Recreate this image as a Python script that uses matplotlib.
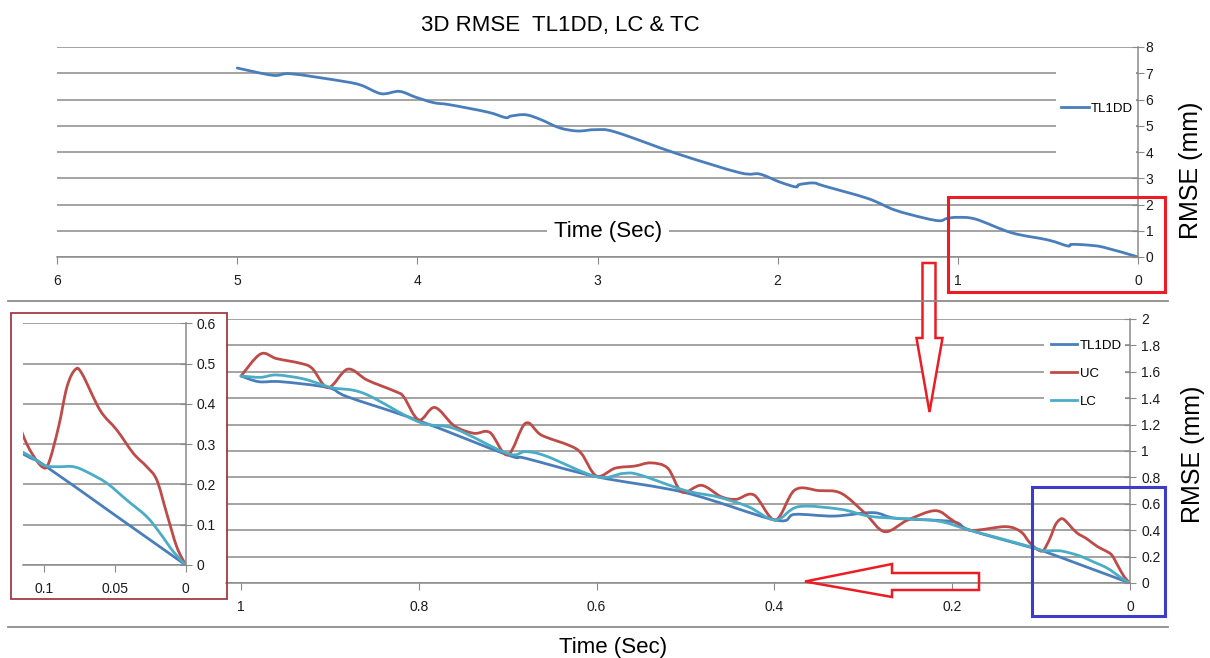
import matplotlib
matplotlib.use('Agg')
import matplotlib.pyplot as plt
from matplotlib.transforms import Affine2D
from matplotlib.patches import Rectangle, Polygon, PathPatch
from matplotlib.path import Path
from matplotlib.lines import Line2D

W, H = 1210, 658

# ---- top chart: TL1DD over the full 5 s ----
top_t = [5.0, 4.80, 4.70, 4.41, 4.31, 4.20, 4.10, 4.01, 3.91, 3.82, 3.61, 3.51,
         3.48, 3.40, 3.32, 3.21, 3.11, 3.01, 2.90, 2.56, 2.21, 2.10, 1.99, 1.90,
         1.88, 1.80, 1.74, 1.50, 1.35, 1.19, 1.10, 1.06, 1.00, 0.90, 0.70, 0.50,
         0.39, 0.37, 0.29, 0.19, 0.0]
top_tl1dd = [7.20, 6.92, 6.98, 6.69, 6.54, 6.22, 6.31, 6.09, 5.88, 5.80, 5.52, 5.31,
             5.37, 5.42, 5.25, 4.92, 4.80, 4.85, 4.76, 3.94, 3.21, 3.16, 2.86, 2.67,
             2.76, 2.82, 2.70, 2.23, 1.79, 1.49, 1.38, 1.47, 1.51, 1.44, 0.92, 0.65,
             0.42, 0.48, 0.46, 0.37, 0.0]
top_xticks = [6, 5, 4, 3, 2, 1, 0]
top_yticks = [0, 1, 2, 3, 4, 5, 6, 7, 8]

# ---- bottom chart: last second, TL1DD / UC / LC ----
tl1dd_t = [1.0, 0.98, 0.955, 0.902, 0.88, 0.80, 0.70, 0.68, 0.60, 0.50, 0.399,
           0.377, 0.333, 0.289, 0.263, 0.20, 0.18, 0.1139, 0.10, 0.05, 0.0]
tl1dd_v = [1.568, 1.525, 1.525, 1.48, 1.41, 1.23, 0.97, 0.945, 0.805, 0.684, 0.477,
           0.52, 0.507, 0.533, 0.49, 0.465, 0.40, 0.274, 0.248, 0.124, 0.0]

uc_t = [1.0, 0.978, 0.96, 0.933, 0.92, 0.902, 0.88, 0.858, 0.826, 0.817, 0.80,
        0.782, 0.76, 0.738, 0.72, 0.70, 0.68, 0.662, 0.63, 0.617, 0.60, 0.579,
        0.557, 0.539, 0.52, 0.504, 0.482, 0.46, 0.443, 0.423, 0.399, 0.377, 0.35,
        0.325, 0.298, 0.276, 0.25, 0.219, 0.20, 0.18, 0.14, 0.123, 0.1139, 0.1085,
        0.1014, 0.0968, 0.0897, 0.0838, 0.078, 0.0732, 0.0604, 0.0486, 0.0369,
        0.0275, 0.0204, 0.0134, 0.0063, 0.0]
uc_v = [1.568, 1.735, 1.70, 1.664, 1.626, 1.48, 1.62, 1.537, 1.45, 1.41, 1.235,
        1.33, 1.19, 1.134, 1.14, 0.97, 1.21, 1.12, 1.04, 0.98, 0.81, 0.87,
        0.886, 0.91, 0.87, 0.69, 0.74, 0.654, 0.634, 0.667, 0.477, 0.705, 0.70,
        0.68, 0.528, 0.389, 0.477, 0.548, 0.477, 0.40, 0.427, 0.389, 0.314, 0.277,
        0.244, 0.252, 0.343, 0.442, 0.485, 0.475, 0.384, 0.335, 0.277,
        0.244, 0.211, 0.128, 0.045, 0.0]

lc_t = [1.0, 0.978, 0.96, 0.929, 0.898, 0.862, 0.80, 0.76, 0.70, 0.68, 0.657,
        0.60, 0.57, 0.552, 0.50, 0.465, 0.43, 0.399, 0.373, 0.325, 0.289, 0.219,
        0.18, 0.1139, 0.1003, 0.0908, 0.0792, 0.0697, 0.0556, 0.0415, 0.0275,
        0.0181, 0.0087, 0.0]
lc_v = [1.568, 1.558, 1.576, 1.545, 1.48, 1.437, 1.22, 1.17, 0.98, 0.995, 0.962,
        0.805, 0.83, 0.82, 0.70, 0.654, 0.58, 0.477, 0.578, 0.558, 0.502, 0.472,
        0.40, 0.278, 0.248, 0.244, 0.244, 0.231, 0.203, 0.161, 0.12,
        0.079, 0.033, 0.0]

bottom_xticks = [1, 0.8, 0.6, 0.4, 0.2, 0]
bottom_yticks = [0, 0.2, 0.4, 0.6, 0.8, 1, 1.2, 1.4, 1.6, 1.8, 2]
inset_xticks = [0.1, 0.05, 0]
inset_yticks = [0, 0.1, 0.2, 0.3, 0.4, 0.5, 0.6]

C_TL1DD = '#4a7ebb'
C_UC = '#be4b48'
C_LC = '#4bacc6'
GRID = '#8a8a8a'

plt.rcParams['font.family'] = ['Liberation Sans', 'DejaVu Sans']

fig = plt.figure(figsize=(W / 100, H / 100), dpi=100)
fig.patch.set_facecolor('white')
# pixel coordinates of the picture (origin top left)
px = Affine2D().scale(1 / W, -1 / H).translate(0, 1) + fig.transFigure


def box(x0, y0, x1, y1):
    return [x0 / W, 1 - y1 / H, (x1 - x0) / W, (y1 - y0) / H]


def style(ax, xticks, yticks, xlim, ylim, ypad):
    ax.set_xlim(*xlim)
    ax.set_ylim(*ylim)
    ax.set_xticks(xticks)
    ax.set_yticks(yticks)
    ax.set_xticklabels(['{:g}'.format(v) for v in xticks])
    ax.set_yticklabels(['{:g}'.format(v) for v in yticks])
    ax.yaxis.tick_right()
    ax.set_axisbelow(True)
    ax.yaxis.grid(True, color=GRID, lw=1.1)
    for s in ['left', 'top']:
        ax.spines[s].set_visible(False)
    for s in ['right', 'bottom']:
        ax.spines[s].set_color(GRID)
        ax.spines[s].set_linewidth(1.1)
    ax.tick_params(axis='x', direction='out', length=5, pad=7, color=GRID,
                   labelsize=10, labelcolor='#1a1a1a')
    ax.tick_params(axis='y', direction='inout', length=8, pad=ypad, color=GRID,
                   labelsize=10, labelcolor='#1a1a1a')
    ax.patch.set_alpha(0)


def blank(ax, x0, y0, x1, y1):
    # white area behind the legend, as in the source chart
    ax.add_patch(Rectangle((x0, y0), x1 - x0, y1 - y0, transform=px,
                           facecolor='white', edgecolor='none', zorder=1))


def smooth_line(ax, t, v, color):
    # Excel style smoothed line: Catmull-Rom through the data points
    pts = list(zip(t, v))
    n = len(pts)
    verts = [pts[0]]
    codes = [Path.MOVETO]
    for i in range(n - 1):
        p0 = pts[max(i - 1, 0)]
        p1 = pts[i]
        p2 = pts[i + 1]
        p3 = pts[min(i + 2, n - 1)]
        c1 = (p1[0] + (p2[0] - p0[0]) / 6, p1[1] + (p2[1] - p0[1]) / 6)
        c2 = (p2[0] - (p3[0] - p1[0]) / 6, p2[1] - (p3[1] - p1[1]) / 6)
        verts += [c1, c2, p2]
        codes += [Path.CURVE4] * 3
    ax.add_patch(PathPatch(Path(verts, codes), fill=False, edgecolor=color, lw=2,
                           joinstyle='round', capstyle='round', zorder=2))
    return Line2D([], [], color=color, lw=2)


# top chart
ax1 = fig.add_axes(box(57, 47, 1138, 257))
style(ax1, top_xticks, top_yticks, (6, 0), (0, 8), 1.5)
h_top = smooth_line(ax1, top_t, top_tl1dd, C_TL1DD)
blank(ax1, 1056, 60, 1136, 167)
ax1.legend([h_top], ['TL1DD'], loc='center left', bbox_to_anchor=(1061, 109),
           bbox_transform=px, frameon=False, handlelength=2.1, handletextpad=0.15,
           borderpad=0, borderaxespad=0, fontsize=9.5)
ax1.text(608, 231, 'Time (Sec)', transform=px, ha='center', va='center',
         fontsize=16, zorder=3,
         bbox=dict(boxstyle='square,pad=0.3', facecolor='white', edgecolor='none'))

# bottom chart
ax2 = fig.add_axes(box(226, 319, 1130, 583))
style(ax2, bottom_xticks, bottom_yticks, (1.0169, 0), (0, 2), 4)
h1 = smooth_line(ax2, tl1dd_t, tl1dd_v, C_TL1DD)
h2 = smooth_line(ax2, uc_t, uc_v, C_UC)
h3 = smooth_line(ax2, lc_t, lc_v, C_LC)
blank(ax2, 1044, 330, 1125, 414)
ax2.legend([h1, h2, h3], ['TL1DD', 'UC', 'LC'], loc='center left',
           bbox_to_anchor=(1051, 373.5), bbox_transform=px, frameon=False,
           handlelength=2.0, handletextpad=0.2, borderpad=0, borderaxespad=0,
           labelspacing=1.2, fontsize=9.5)

# zoomed inset of the last 0.11 s
ax3 = fig.add_axes(box(23.3, 323.3, 185.7, 565))
style(ax3, inset_xticks, inset_yticks, (0.1146, 0), (0, 0.6), 4)
smooth_line(ax3, tl1dd_t, tl1dd_v, C_TL1DD)
smooth_line(ax3, uc_t, uc_v, C_UC)
smooth_line(ax3, lc_t, lc_v, C_LC)

# texts
fig.text(560 / W, 1 - 25 / H, '3D RMSE  TL1DD, LC & TC', ha='center', va='center',
         fontsize=16)
fig.text(613 / W, 1 - 647 / H, 'Time (Sec)', ha='center', va='center', fontsize=16)
fig.text(1191 / W, 1 - 170 / H, 'RMSE (mm)', ha='center', va='center',
         rotation=90, fontsize=18)
fig.text(1193 / W, 1 - 454 / H, 'RMSE (mm)', ha='center', va='center',
         rotation=90, fontsize=18)

# separators, frames and arrows
for y in (301, 627):
    fig.add_artist(Line2D([8, 1168], [y, y], transform=px, color='#8c8c8c', lw=1.3))
fig.add_artist(Rectangle((10.7, 313.3), 216, 285.7, transform=px, fill=False,
                         edgecolor='#a33a45', lw=1.3))
fig.add_artist(Rectangle((947.5, 197), 217.5, 94.5, transform=px, fill=False,
                         edgecolor='#ec1c24', lw=2.2))
fig.add_artist(Rectangle((1032, 487), 132.5, 129, transform=px, fill=False,
                         edgecolor='#3c3cc8', lw=2.2))
fig.add_artist(Polygon([(922.5, 263), (935.5, 263), (935.5, 338), (942.5, 338),
                        (929.5, 412), (916.5, 338), (922.5, 338)], closed=True,
                       transform=px, facecolor='white', edgecolor='#ec1c24', lw=1.8))
fig.add_artist(Polygon([(805, 581.5), (892, 564), (892, 573), (979, 573),
                        (979, 590), (892, 590), (892, 597)], closed=True,
                       transform=px, fill=False, edgecolor='#ec1c24', lw=1.8))

fig.savefig('out.png', dpi=100, facecolor='white')
